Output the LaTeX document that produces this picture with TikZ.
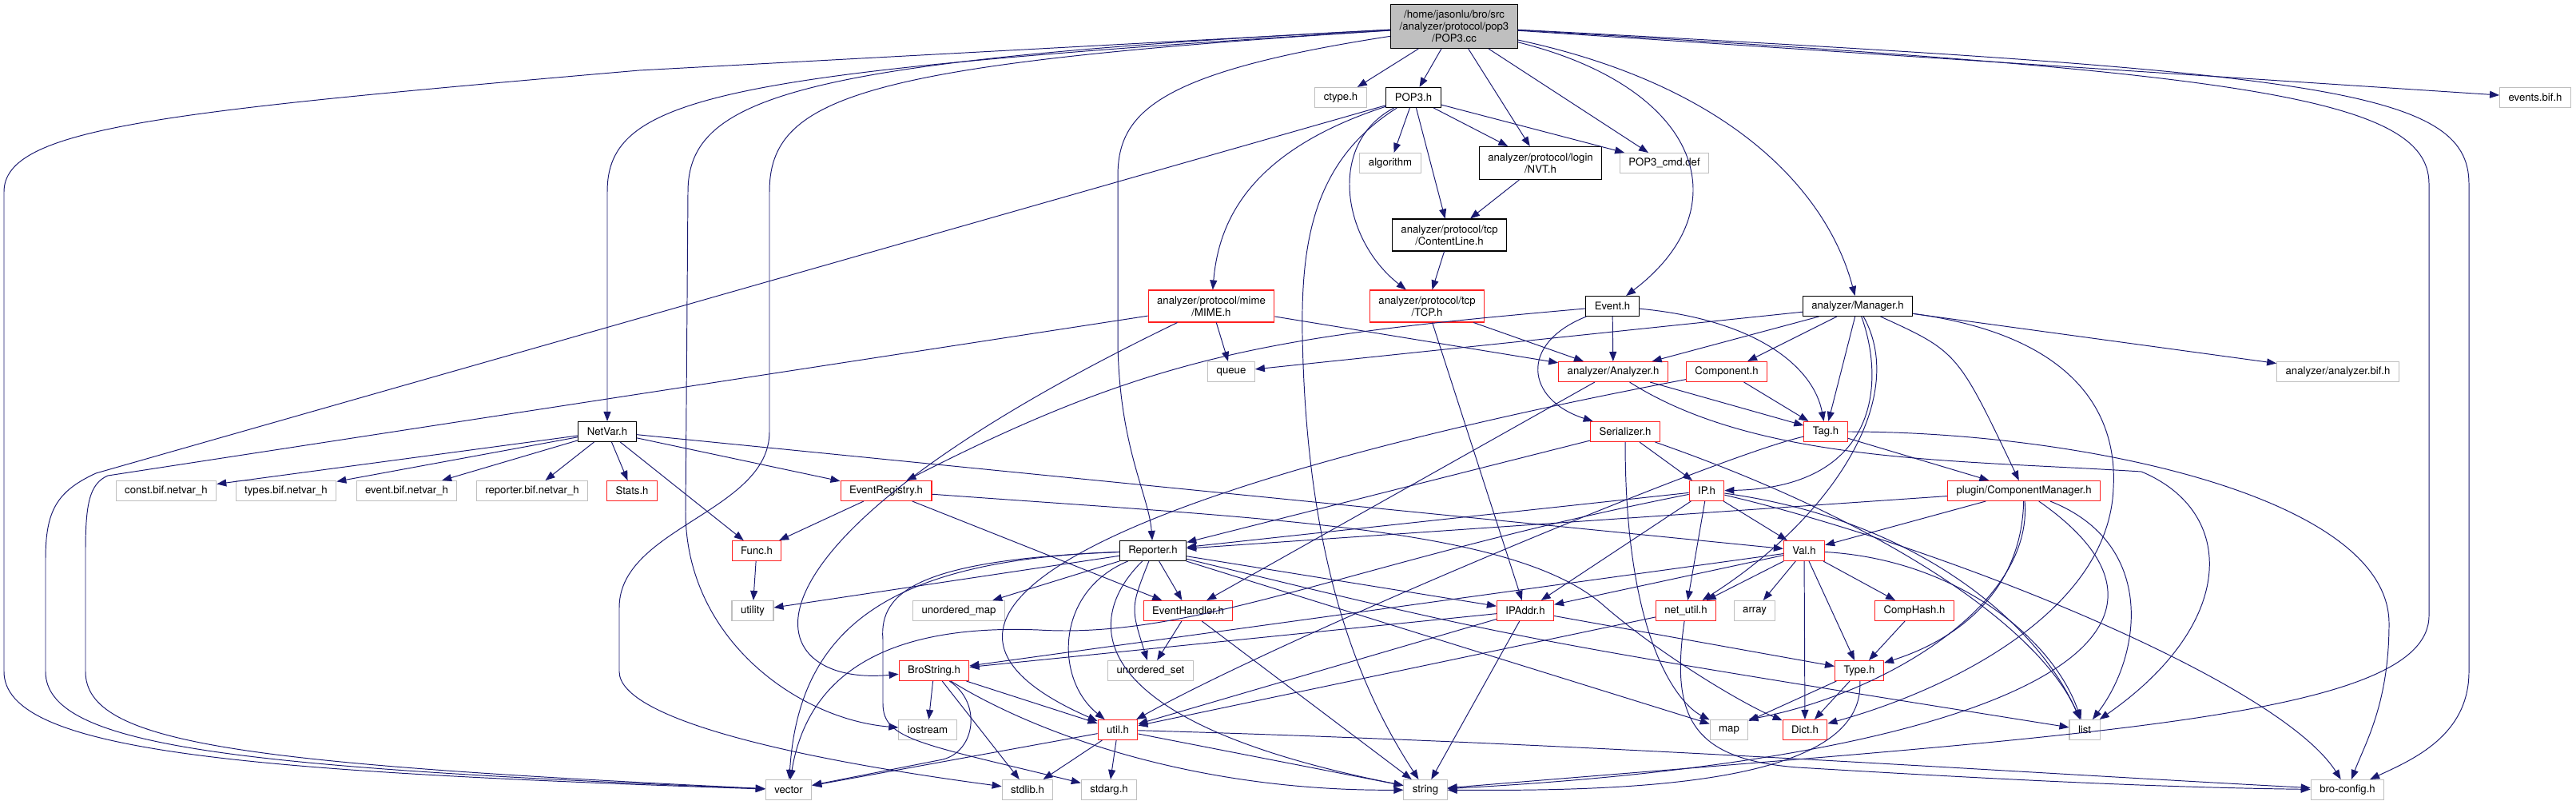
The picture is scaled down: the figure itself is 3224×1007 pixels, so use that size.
\documentclass[tikz,border=0pt]{standalone}
\usepackage{fontspec}
\setmainfont{TeX Gyre Heros}
\usetikzlibrary{arrows.meta}
\definecolor{edgeblue}{HTML}{191970}
\definecolor{sysgray}{HTML}{BFBFBF}
\definecolor{partred}{HTML}{FF2020}
\tikzset{
  hdr/.style={draw=black, line width=0.6pt, fill=white, align=center,
    font=\fontsize{7.5}{8.5}\selectfont, inner xsep=0.22cm, inner ysep=0pt, minimum height=0.5cm},
  sys/.style={hdr, draw=sysgray, line width=0.6pt},
  part/.style={hdr, draw=partred, line width=0.6pt},
  rootfile/.style={hdr, fill=sysgray, minimum height=1.1cm},
  dep/.style={draw=edgeblue, line width=0.55pt, -{Triangle[length=0.24cm, width=0.18cm]}},
}

\begin{document}
\begin{tikzpicture}[x=0.02cm, y=-0.02cm]
  \useasboundingbox (0,0) rectangle (3224,1007);
  % files
  \node[rootfile] (pop3cc) at (1820,33) {/home/jasonlu/bro/src\\/analyzer/protocol/pop3\\/POP3.cc};
  \node[sys] (ctype) at (1678,122) {ctype.h};
  \node[hdr] (pop3h) at (1769,122) {POP3.h};
  \node[sys] (eventsbif) at (3173,122) {events.bif.h};
  \node[sys] (algorithm) at (1740,204) {algorithm};
  \node[hdr, minimum height=0.82cm] (nvt) at (1928,204) {analyzer/protocol/login\\/NVT.h};
  \node[sys] (cmddef) at (2083,204) {POP3\_cmd.def};
  \node[hdr, minimum height=0.8cm] (contentline) at (1814,294) {analyzer/protocol/tcp\\/ContentLine.h};
  \node[part, minimum height=0.8cm] (mime) at (1516,383) {analyzer/protocol/mime\\/MIME.h};
  \node[part, minimum height=0.8cm] (tcp) at (1786,383) {analyzer/protocol/tcp\\/TCP.h};
  \node[hdr] (eventh) at (2018,383) {Event.h};
  \node[hdr] (manager) at (2325,383) {analyzer/Manager.h};
  \node[sys] (queue) at (1541,465) {queue};
  \node[part] (analyzer) at (2019,465) {analyzer/Analyzer.h};
  \node[part] (component) at (2161,465) {Component.h};
  \node[sys] (analyzerbif) at (2926,465) {analyzer/analyzer.bif.h};
  \node[hdr] (netvar) at (760,540) {NetVar.h};
  \node[part] (serializer) at (2034,540) {Serializer.h};
  \node[part] (tag) at (2285,540) {Tag.h};
  \node[sys] (constbif) at (208,614) {const.bif.netvar\_h};
  \node[sys] (typesbif) at (358,614) {types.bif.netvar\_h};
  \node[sys] (eventbif) at (509,614) {event.bif.netvar\_h};
  \node[sys] (reporterbif) at (666,614) {reporter.bif.netvar\_h};
  \node[part] (stats) at (791,614) {Stats.h};
  \node[part] (evreg) at (1109,614) {EventRegistry.h};
  \node[part] (iph) at (2136,614) {IP.h};
  \node[part] (compmgr) at (2533,614) {plugin/ComponentManager.h};
  \node[part] (func) at (947,689) {Func.h};
  \node[hdr] (reporter) at (1443,689) {Reporter.h};
  \node[part] (val) at (2258,689) {Val.h};
  \node[sys] (utility) at (942,764) {utility};
  \node[sys] (umap) at (1200,764) {unordered\_map};
  \node[part] (evhandler) at (1487,764) {EventHandler.h};
  \node[part] (ipaddr) at (1909,764) {IPAddr.h};
  \node[part] (netutil) at (2110,764) {net\_util.h};
  \node[sys] (array) at (2196,764) {array};
  \node[part] (comphash) at (2396,764) {CompHash.h};
  \node[part] (brostring) at (1169,839) {BroString.h};
  \node[sys] (uset) at (1440,839) {unordered\_set};
  \node[part] (typeh) at (2327,839) {Type.h};
  \node[sys] (iostream) at (1161,913) {iostream};
  \node[part] (util) at (1399,913) {util.h};
  \node[sys] (map) at (2164,913) {map};
  \node[part] (dict) at (2259,913) {Dict.h};
  \node[sys] (list) at (2609,913) {list};
  \node[sys] (vector) at (987,988) {vector};
  \node[sys] (stdlib) at (1286,988) {stdlib.h};
  \node[sys] (stdarg) at (1388,988) {stdarg.h};
  \node[sys] (string) at (1784,988) {string};
  \node[sys] (broconfig) at (2938,988) {bro-config.h};
  % includes of POP3.cc
  \draw[dep] (pop3cc) -- (ctype);
  \draw[dep] (pop3cc) -- (pop3h);
  \draw[dep] (pop3cc) -- (nvt);
  \draw[dep] (pop3cc) -- (cmddef);
  \draw[dep] (pop3cc) -- (eventsbif);
  \draw[dep] (pop3cc) .. controls (2130,110) and (2180,260) .. (eventh);
  \draw[dep] (pop3cc) .. controls (2180,110) and (2290,250) .. (manager);
  \draw[dep] (pop3cc) .. controls (1450,90) and (1399,140) .. (1399,220) -- (1399,430) .. controls (1401,560) and (1438,620) .. (reporter);
  \draw[dep] (pop3cc) .. controls (900,90) and (760,120) .. (760,240) -- (netvar);
  \draw[dep] (pop3cc) .. controls (1000,75) and (861,120) .. (861,240) -- (858,640) .. controls (858,800) and (1000,900) .. (iostream);
  \draw[dep] (pop3cc) .. controls (1080,80) and (963,120) .. (963,240) -- (963,540) .. controls (963,640) and (775,660) .. (775,760) -- (775,840) .. controls (775,900) and (1000,950) .. (stdlib);
  \draw[dep] (pop3cc) -- (800,88) .. controls (200,140) and (5,160) .. (5,240) -- (5,840) .. controls (5,940) and (300,965) .. (vector);
  \draw[dep] (pop3cc) .. controls (2800,90) and (3040,120) .. (3040,230) -- (3040,770) .. controls (3040,900) and (2600,920) .. (string);
  \draw[dep] (pop3cc) .. controls (2900,90) and (3090,110) .. (3090,230) -- (3090,840) .. controls (3090,920) and (3020,950) .. (broconfig);
  % POP3.h
  \draw[dep] (pop3h) -- (algorithm);
  \draw[dep] (pop3h) -- (contentline);
  \draw[dep] (pop3h) -- (nvt);
  \draw[dep] (pop3h) -- (cmddef);
  \draw[dep] (pop3h) .. controls (1560,190) and (1525,280) .. (mime);
  \draw[dep] (pop3h) .. controls (1660,180) and (1680,300) .. (tcp);
  \draw[dep] (pop3h) .. controls (1645,200) and (1628,300) .. (1630,420) .. controls (1635,700) and (1700,860) .. (string);
  \draw[dep] (pop3h) -- (120,592) .. controls (70,615) and (57,640) .. (57,700) -- (57,840) .. controls (57,935) and (300,960) .. (vector);
  \draw[dep] (nvt) -- (contentline);
  \draw[dep] (contentline) -- (tcp);
  % protocol headers
  \draw[dep] (mime) -- (queue);
  \draw[dep] (mime) -- (analyzer);
  \draw[dep] (mime) .. controls (880,690) and (950,860) .. (brostring);
  \draw[dep] (mime) -- (135,595) .. controls (112,605) and (107,630) .. (107,690) -- (107,840) .. controls (107,930) and (300,955) .. (vector);
  \draw[dep] (tcp) -- (analyzer);
  \draw[dep] (tcp) -- (ipaddr);
  \draw[dep] (eventh) -- (analyzer);
  \draw[dep] (eventh) .. controls (2200,400) and (2270,460) .. (tag);
  \draw[dep] (eventh) .. controls (1900,430) and (1910,500) .. (serializer);
  \draw[dep] (eventh) .. controls (1600,420) and (1450,440) .. (evreg);
  % analyzer/Manager.h
  \draw[dep] (manager) -- (queue);
  \draw[dep] (manager) -- (analyzer);
  \draw[dep] (manager) -- (component);
  \draw[dep] (manager) -- (tag);
  \draw[dep] (manager) -- (analyzerbif);
  \draw[dep] (manager) .. controls (2360,480) and (2350,610) .. (iph);
  \draw[dep] (manager) .. controls (2390,500) and (2290,650) .. (netutil);
  \draw[dep] (manager) .. controls (2450,440) .. (compmgr);
  \draw[dep] (manager) .. controls (2600,420) and (2650,520) .. (2645,610) .. controls (2640,760) and (2450,860) .. (dict);
  \draw[dep] (analyzer) -- (tag);
  \draw[dep] (analyzer) -- (evhandler);
  \draw[dep] (analyzer) .. controls (2200,580) and (2450,575) .. (2680,590) .. controls (2800,640) and (2800,780) .. (list);
  \draw[dep] (component) -- (tag);
  \draw[dep] (component) .. controls (1450,600) and (1050,760) .. (util);
  \draw[dep] (serializer) -- (iph);
  \draw[dep] (serializer) -- (reporter);
  \draw[dep] (serializer) .. controls (2034,800) and (2100,880) .. (map);
  \draw[dep] (serializer) .. controls (2350,650) and (2550,780) .. (list);
  \draw[dep] (tag) -- (compmgr);
  \draw[dep] (tag) .. controls (2150,570) and (1600,800) .. (util);
  \draw[dep] (tag) .. controls (2600,540) and (2990,620) .. (2990,780) .. controls (2990,880) and (2960,930) .. (broconfig);
  % NetVar.h
  \draw[dep] (netvar) -- (constbif);
  \draw[dep] (netvar) -- (typesbif);
  \draw[dep] (netvar) -- (eventbif);
  \draw[dep] (netvar) -- (reporterbif);
  \draw[dep] (netvar) -- (stats);
  \draw[dep] (netvar) -- (func);
  \draw[dep] (netvar) -- (evreg);
  \draw[dep] (netvar) -- (val);
  \draw[dep] (evreg) -- (func);
  \draw[dep] (evreg) -- (evhandler);
  \draw[dep] (evreg) .. controls (1600,650) and (1900,660) .. (2010,760) .. controls (2080,820) and (2180,880) .. (dict);
  \draw[dep] (func) -- (utility);
  % IP.h and plugin/ComponentManager.h
  \draw[dep] (iph) -- (reporter);
  \draw[dep] (iph) -- (ipaddr);
  \draw[dep] (iph) -- (netutil);
  \draw[dep] (iph) -- (val);
  \draw[dep] (iph) .. controls (2400,650) and (2550,780) .. (list);
  \draw[dep] (iph) .. controls (2420,680) and (2850,850) .. (broconfig);
  \draw[dep] (iph) .. controls (1700,700) and (1500,800) .. (1300,788) .. controls (1100,780) and (1010,850) .. (vector);
  \draw[dep] (compmgr) -- (reporter);
  \draw[dep] (compmgr) -- (val);
  \draw[dep] (compmgr) .. controls (2530,740) and (2450,800) .. (typeh);
  \draw[dep] (compmgr) .. controls (2545,760) and (2350,870) .. (map.north east);
  \draw[dep] (compmgr) .. controls (2700,680) and (2680,820) .. (list);
  \draw[dep] (compmgr) .. controls (2800,800) and (2500,950) .. (string);
  % Reporter.h
  \draw[dep] (reporter) -- (utility);
  \draw[dep] (reporter) -- (umap);
  \draw[dep] (reporter) -- (evhandler);
  \draw[dep] (reporter) .. controls (1415,760) .. (uset);
  \draw[dep] (reporter) .. controls (1320,740) and (1320,850) .. (util);
  \draw[dep] (reporter) .. controls (1360,770) and (1340,900) .. (string);
  \draw[dep] (reporter) .. controls (1120,700) and (1000,780) .. (vector);
  \draw[dep] (reporter) .. controls (1150,700) and (1100,740) .. (1105,800) -- (1105,880) .. controls (1105,925) and (1150,930) .. (stdarg);
  \draw[dep] (reporter) -- (ipaddr);
  \draw[dep] (reporter) -- (map);
  \draw[dep] (reporter) .. controls (1900,800) .. (list);
  % Val.h
  \draw[dep] (val) -- (ipaddr);
  \draw[dep] (val) -- (netutil);
  \draw[dep] (val) -- (array);
  \draw[dep] (val) -- (typeh);
  \draw[dep] (val) -- (dict);
  \draw[dep] (val) -- (comphash);
  \draw[dep] (val) -- (brostring);
  \draw[dep] (val) .. controls (2450,700) and (2570,800) .. (list);
  \draw[dep] (comphash) -- (typeh);
  % lower headers
  \draw[dep] (evhandler) -- (uset);
  \draw[dep] (evhandler) -- (string);
  \draw[dep] (ipaddr) -- (brostring);
  \draw[dep] (ipaddr) -- (util);
  \draw[dep] (ipaddr) -- (string);
  \draw[dep] (ipaddr) -- (typeh);
  \draw[dep] (netutil) -- (util);
  \draw[dep] (netutil) .. controls (2090,900) and (2120,950) .. (2250,960) .. controls (2500,975) and (2700,985) .. (broconfig);
  \draw[dep] (typeh) -- (map);
  \draw[dep] (typeh) -- (dict);
  \draw[dep] (typeh) .. controls (2335,980) and (2050,990) .. (string);
  \draw[dep] (brostring) -- (iostream);
  \draw[dep] (brostring) -- (stdlib);
  \draw[dep] (brostring) -- (util);
  \draw[dep] (brostring) .. controls (1230,880) and (1220,940) .. (1180,950) -- (vector);
  \draw[dep] (brostring) .. controls (1300,920) and (1500,990) .. (string);
  \draw[dep] (util) -- (vector);
  \draw[dep] (util) -- (stdlib);
  \draw[dep] (util) -- (stdarg);
  \draw[dep] (util) -- (string);
  \draw[dep] (util) .. controls (2000,930) and (2500,965) .. (broconfig);
\end{tikzpicture}
\end{document}
